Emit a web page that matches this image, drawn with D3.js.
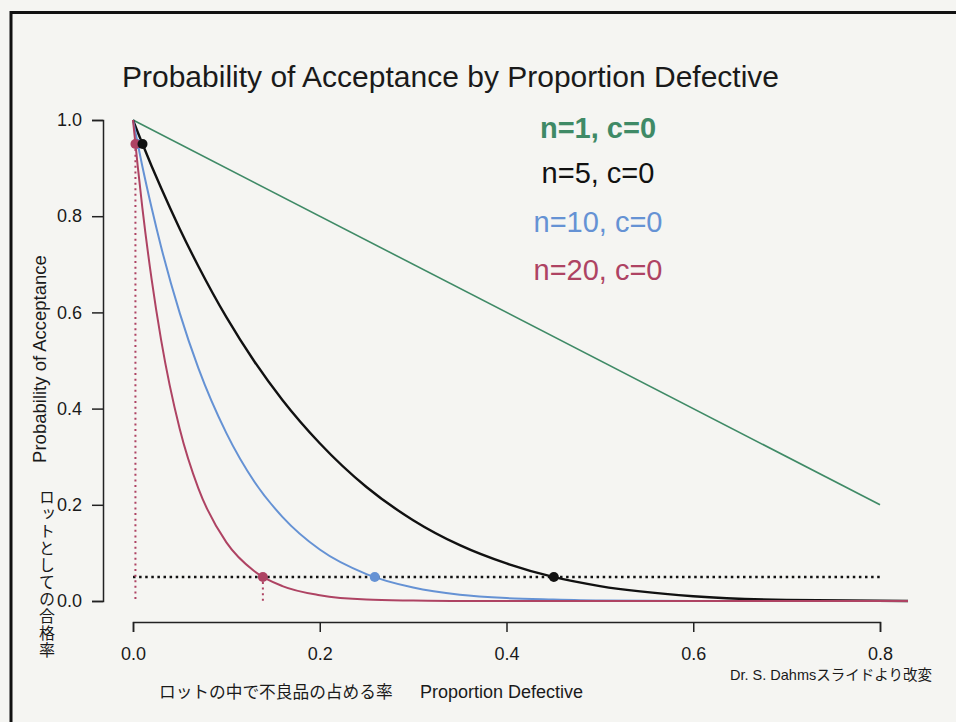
<!DOCTYPE html>
<html>
<head>
<meta charset="utf-8">
<script src="https://cdn.jsdelivr.net/npm/d3@7"></script>
<style>
  html, body { margin: 0; padding: 0; background: #f5f5f2; }
  svg { display: block; }
  text { font-family: "Liberation Sans", Arial, "Noto Sans CJK JP", sans-serif; fill: #1a1a1a; }
  .jp { font-family: "Noto Sans CJK JP", "Liberation Sans", sans-serif; }
  .vjp { writing-mode: vertical-rl; text-orientation: upright; }
</style>
</head>
<body>
<script>
// Proportion defective grid and probability of acceptance for each plan (c = 0)
const pGrid = [0, 0.005, 0.01, 0.02, 0.03, 0.05, 0.07, 0.1, 0.13, 0.16, 0.2, 0.25, 0.3, 0.35, 0.4, 0.45, 0.5, 0.6, 0.7, 0.83];
const paN5  = [1, 0.975, 0.951, 0.904, 0.859, 0.774, 0.696, 0.590, 0.498, 0.418, 0.328, 0.237, 0.168, 0.116, 0.078, 0.050, 0.031, 0.010, 0.002, 0.000];
const paN10 = [1, 0.951, 0.904, 0.817, 0.737, 0.599, 0.484, 0.349, 0.248, 0.175, 0.107, 0.056, 0.028, 0.013, 0.006, 0.003, 0.001, 0.000, 0.000, 0.000];
const paN20 = [1, 0.905, 0.818, 0.668, 0.544, 0.358, 0.234, 0.122, 0.062, 0.031, 0.012, 0.003, 0.001, 0.000, 0.000, 0.000, 0.000, 0.000, 0.000, 0.000];
const pGridN1 = [0, 0.8];
const paN1    = [1, 0.2];

// Producer / consumer risk points: p where Pa = 0.95 and Pa = 0.05
const riskPlans = ["n=5", "n=10", "n=20"];
const pAt95 = [0.0102, 0.0051, 0.0026];
const pAt05 = [0.4507, 0.2589, 0.1391];
const pa95 = 0.95, pa05 = 0.05;

const legendLabels = ["n=1, c=0", "n=5, c=0", "n=10, c=0", "n=20, c=0"];
const xTicks = [0, 0.2, 0.4, 0.6, 0.8];
const yTicks = [0, 0.2, 0.4, 0.6, 0.8, 1.0];

const colGreen = "#3f8a66", colBlack = "#111111", colBlue = "#6592d4", colRed = "#ae4363";

const W = 956, H = 722;
const svg = d3.select("body").append("svg").attr("width", W).attr("height", H);

svg.append("rect").attr("width", W).attr("height", H).attr("fill", "#f5f5f2");
// frame edges
svg.append("line").attr("x1", 10).attr("x2", W).attr("y1", 12.5).attr("y2", 12.5)
  .attr("stroke", "#111").attr("stroke-width", 3);
svg.append("line").attr("x1", 11).attr("x2", 11).attr("y1", 11).attr("y2", H)
  .attr("stroke", "#111").attr("stroke-width", 3);

const x = d3.scaleLinear().domain([0, 0.8]).range([133, 880]);
const y = d3.scaleLinear().domain([0, 1]).range([601, 120]);

// axes
const xAxis = svg.append("g").attr("transform", "translate(0,622)")
  .call(d3.axisBottom(x).tickValues(xTicks).tickFormat(d3.format(".1f")).tickSizeOuter(0).tickSize(10));
const yAxis = svg.append("g").attr("transform", "translate(103,0)")
  .call(d3.axisLeft(y).tickValues(yTicks).tickFormat(d3.format(".1f")).tickSizeOuter(0).tickSize(11));
[xAxis, yAxis].forEach(g => {
  g.select(".domain").attr("stroke", "#222").attr("stroke-width", 1.5);
  g.selectAll(".tick line").attr("stroke", "#222").attr("stroke-width", 1.5);
  g.selectAll(".tick text").attr("font-size", 18).attr("fill", "#1a1a1a")
    .style("font-family", "'Liberation Sans', Arial, sans-serif");
});
xAxis.selectAll(".tick text").attr("dy", null).attr("y", 38);
yAxis.selectAll(".tick text").attr("x", -21);

// title
svg.append("text").attr("x", 122).attr("y", 87).attr("font-size", 30)
  .text("Probability of Acceptance by Proportion Defective");

// axis titles
svg.append("text").attr("transform", "translate(46,359) rotate(-90)")
  .attr("text-anchor", "middle").attr("font-size", 18.5).text("Probability of Acceptance");
// Japanese y title, written vertically
svg.append("text").attr("class", "jp vjp").attr("x", 47).attr("y", 489)
  .attr("font-size", 16).attr("letter-spacing", 1)
  .text("ロットとしての合格率");

svg.append("text").attr("class", "jp").attr("x", 159).attr("y", 698)
  .attr("font-size", 16.7).text("ロットの中で不良品の占める率");
svg.append("text").attr("x", 420).attr("y", 698).attr("font-size", 18).text("Proportion Defective");
svg.append("text").attr("x", 730).attr("y", 680).attr("font-size", 14.5)
  .text("Dr. S. Dahmsスライドより改変");

// curves
const line = d3.line().x(d => x(d[0])).y(d => y(d[1])).curve(d3.curveMonotoneX);
const series = [
  { p: pGridN1, v: paN1, color: colGreen, w: 1.6 },
  { p: pGrid, v: paN5, color: colBlack, w: 2.4 },
  { p: pGrid, v: paN10, color: colBlue, w: 2 },
  { p: pGrid, v: paN20, color: colRed, w: 2 }
];
series.forEach(s => {
  svg.append("path").datum(s.p.map((p, i) => [p, s.v[i]]))
    .attr("d", line).attr("fill", "none").attr("stroke", s.color).attr("stroke-width", s.w);
});

// reference lines
svg.append("line").attr("x1", x(0)).attr("x2", x(0.8)).attr("y1", y(pa05)).attr("y2", y(pa05))
  .attr("stroke", "#111").attr("stroke-width", 2.5).attr("stroke-dasharray", "2.5,3.6");
const iRed = riskPlans.indexOf("n=20");
[[pAt95[iRed], pa95], [pAt05[iRed], pa05]].forEach(([p, v]) => {
  svg.append("line").attr("x1", x(p)).attr("x2", x(p)).attr("y1", y(v) + 5).attr("y2", y(0))
    .attr("stroke", colRed).attr("stroke-width", 2).attr("stroke-dasharray", "2,3.6");
});

// risk points
const ptColors = [colBlack, colBlue, colRed];
const order = [1, 2, 0];
order.forEach(i => {
  svg.append("circle").attr("cx", x(pAt95[i])).attr("cy", y(pa95)).attr("r", 5).attr("fill", ptColors[i]);
  svg.append("circle").attr("cx", x(pAt05[i])).attr("cy", y(pa05)).attr("r", 5).attr("fill", ptColors[i]);
});

// legend
const legColors = [colGreen, colBlack, colBlue, colRed];
const legY = [128, 173, 222, 270];
svg.append("g").selectAll("text").data(legendLabels).join("text")
  .attr("x", 598).attr("y", (d, i) => legY[i]).attr("dy", "0.36em")
  .attr("text-anchor", "middle").attr("font-size", 29)
  .attr("font-weight", (d, i) => i === 0 ? "bold" : "normal")
  .style("fill", (d, i) => legColors[i]).text(d => d);
</script>
</body>
</html>
